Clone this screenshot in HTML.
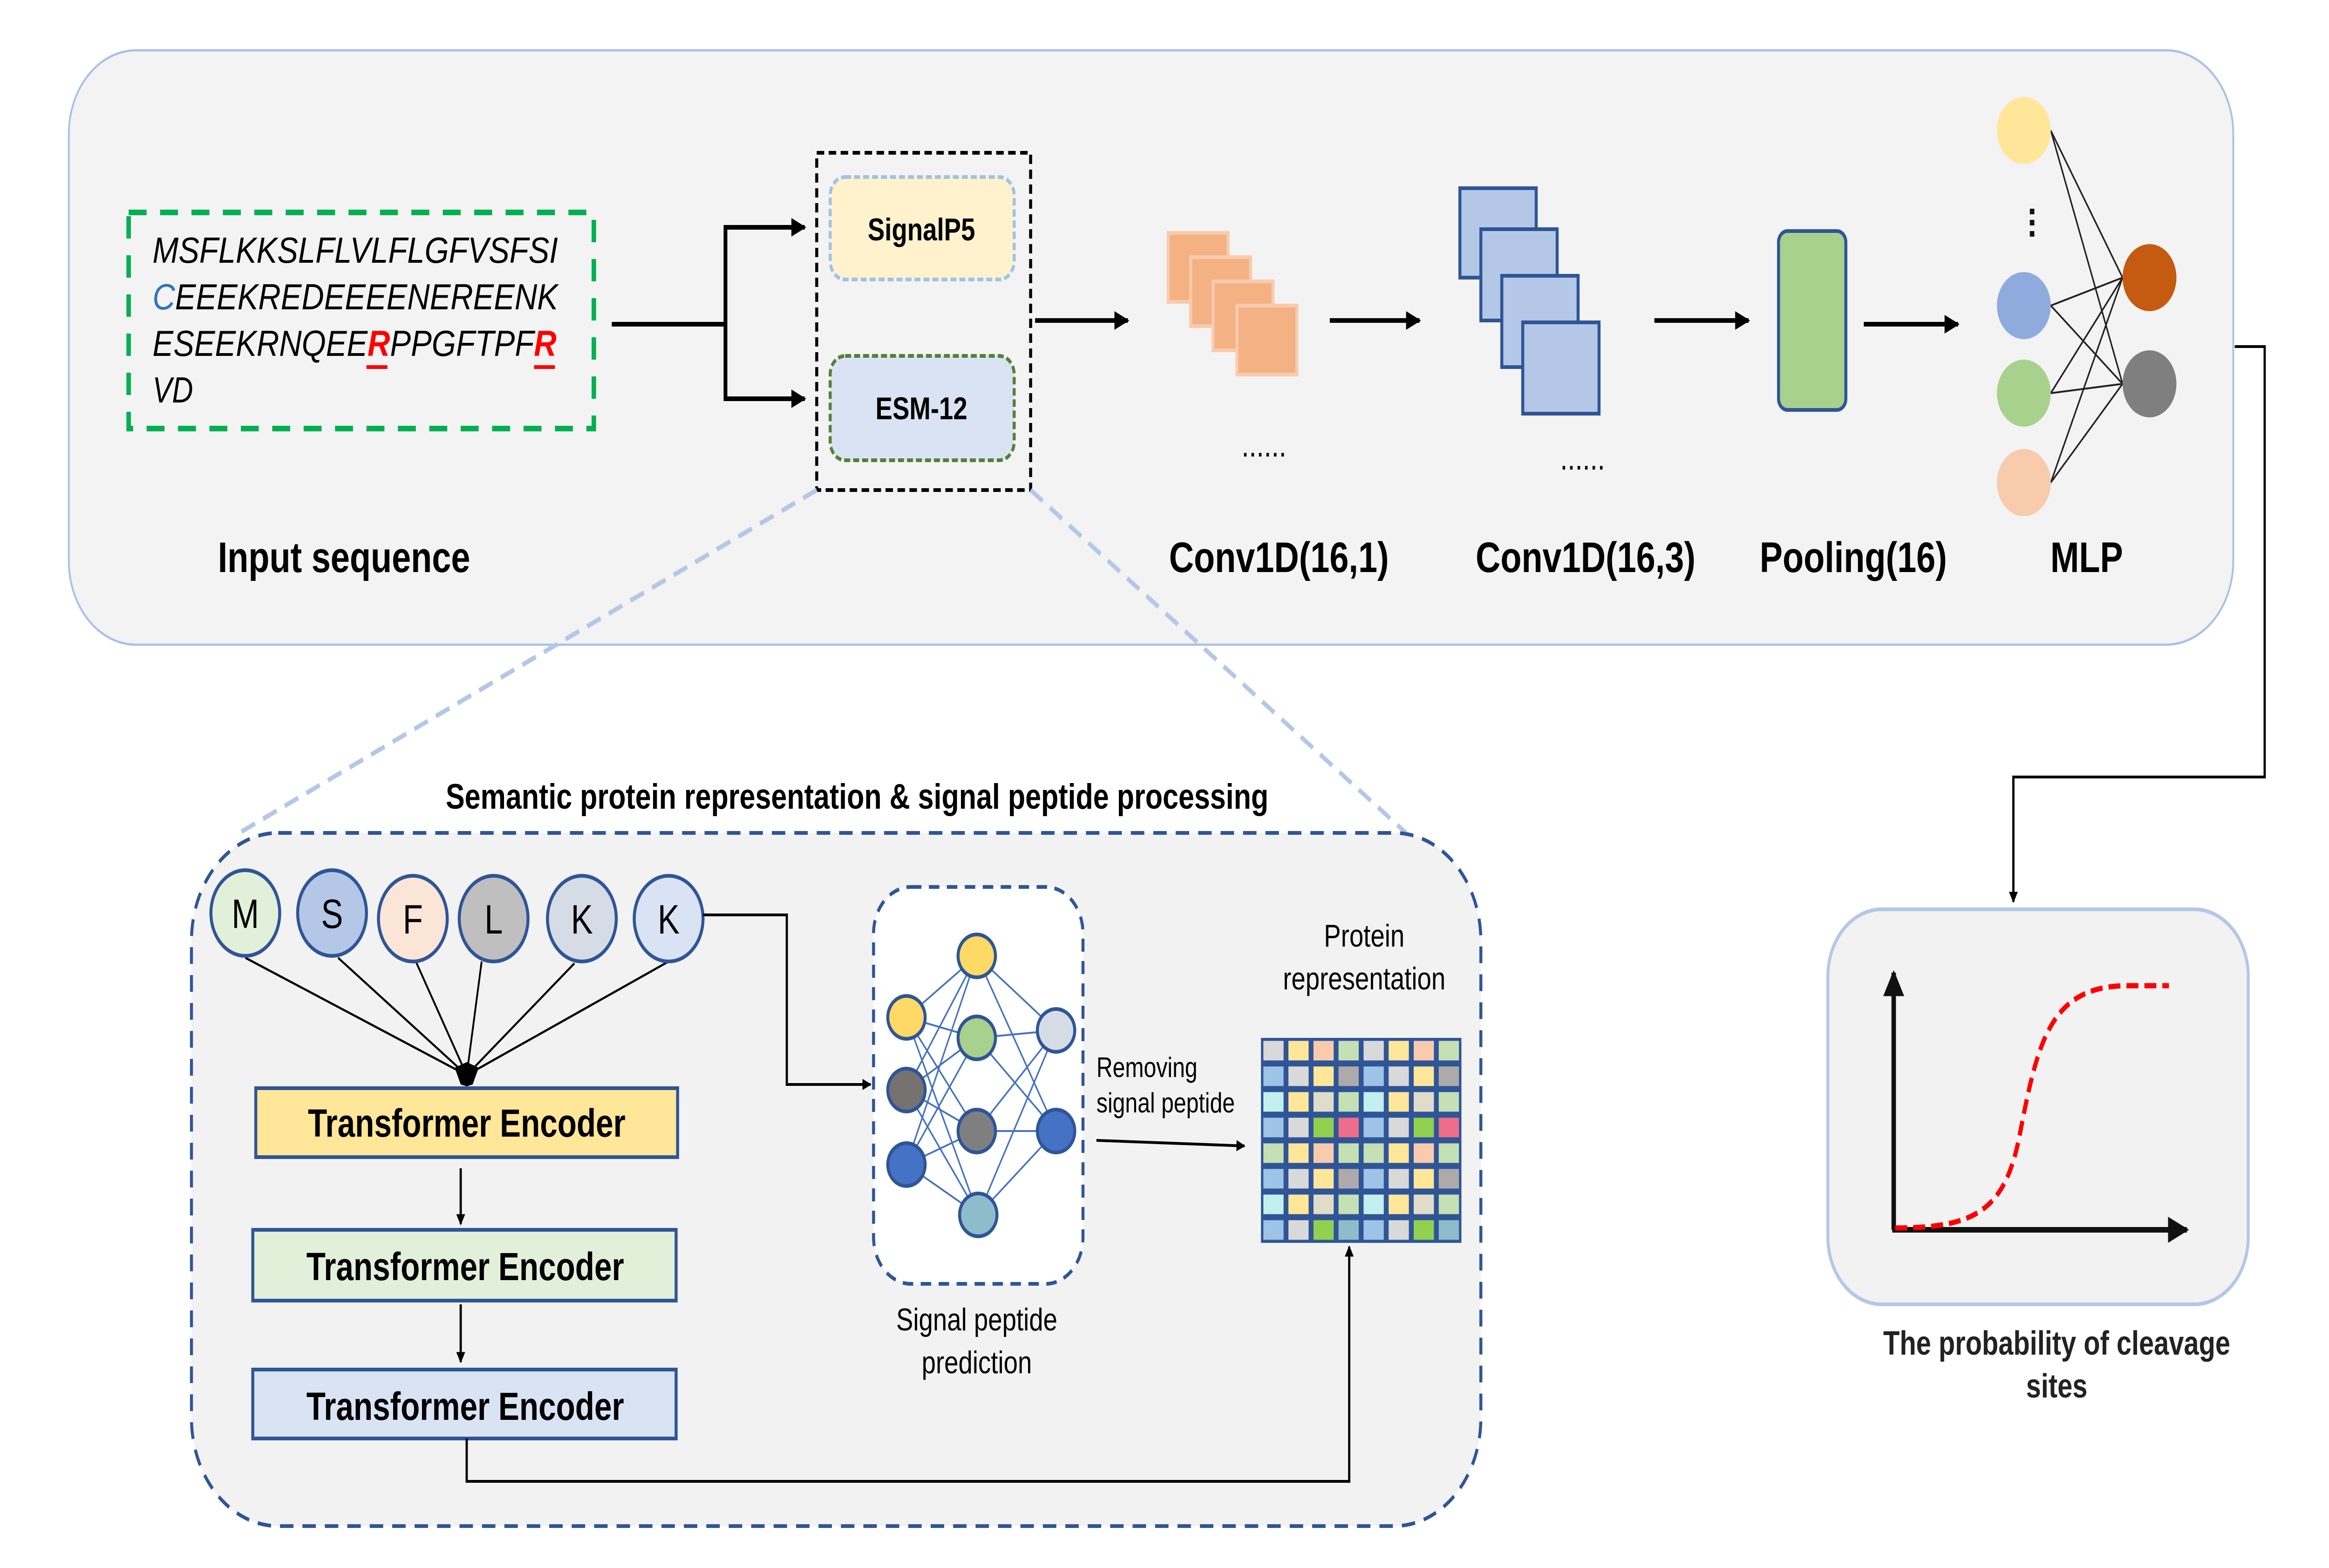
<!DOCTYPE html>
<html><head><meta charset="utf-8"><style>html,body{margin:0;padding:0;background:#fff;overflow:hidden;width:100%;height:100%}svg{display:block;width:100vw;height:100vh}text{font-family:"Liberation Sans",Arial,sans-serif}</style></head>
<body>
<svg viewBox="0 0 1557 841.5" preserveAspectRatio="none" xmlns="http://www.w3.org/2000/svg">
<defs>
<marker id="ah" viewBox="0 0 10 10" refX="9" refY="5" markerWidth="6" markerHeight="6" markerUnits="userSpaceOnUse" orient="auto"><path d="M0,0L10,5L0,10z" fill="#000"/></marker>
<marker id="ah2" viewBox="0 0 10 10" refX="9" refY="5" markerWidth="10" markerHeight="10" markerUnits="userSpaceOnUse" orient="auto"><path d="M0,0L10,5L0,10z" fill="#000"/></marker>
<marker id="ah3" viewBox="0 0 10 10" refX="9" refY="5" markerWidth="14" markerHeight="14" markerUnits="userSpaceOnUse" orient="auto"><path d="M0,0L10,5L0,10z" fill="#111"/></marker>
</defs>
<rect width="1557" height="841.5" fill="#fff"/>
<rect x="46" y="27" width="1447" height="319" rx="45" fill="#f3f3f3" stroke="#a9c0e6" stroke-width="1.2"/>
<rect x="86" y="114" width="311" height="116" fill="none" stroke="#00b050" stroke-width="3" stroke-dasharray="12,9"/>
<g font-style="italic" font-size="19.5" fill="#000">
<text x="102" y="141" textLength="271" lengthAdjust="spacingAndGlyphs">MSFLKKSLFLVLFLGFVSFSI</text>
<text x="102" y="166" textLength="271" lengthAdjust="spacingAndGlyphs"><tspan fill="#2e75b6">C</tspan>EEEKREDEEEENEREENK</text>
<text x="102" y="191" textLength="270" lengthAdjust="spacingAndGlyphs">ESEEKRNQEE<tspan fill="#ff0000" font-weight="bold">R</tspan>PPGFTPF<tspan fill="#ff0000" font-weight="bold">R</tspan></text>
<text x="102" y="216">VD</text>
</g>
<rect x="245" y="196" width="14" height="2" fill="#ff0000"/>
<rect x="357" y="196" width="14" height="2" fill="#ff0000"/>
<text x="230" y="307" font-size="23" font-weight="bold" text-anchor="middle">Input sequence</text>
<g stroke="#000" stroke-width="2.5" fill="none">
<path d="M409,174H485V122H538" marker-end="url(#ah2)"/>
<path d="M485,174V214H538" marker-end="url(#ah2)"/>
<path d="M692,172H754" marker-end="url(#ah2)"/>
<path d="M889,172H949" marker-end="url(#ah2)"/>
<path d="M1106,172H1169" marker-end="url(#ah2)"/>
<path d="M1246,174H1309" marker-end="url(#ah2)"/>
</g>
<rect x="546" y="82" width="143" height="181" fill="none" stroke="#000" stroke-width="2" stroke-dasharray="5,3"/>
<rect x="555" y="95" width="123" height="55" rx="10" fill="#fff2cc" stroke="#9dc3e6" stroke-width="2" stroke-dasharray="4,2"/>
<rect x="555" y="191" width="123" height="56" rx="10" fill="#dae3f3" stroke="#538135" stroke-width="2" stroke-dasharray="4,2"/>
<text x="616" y="129" font-size="17" font-weight="bold" text-anchor="middle">SignalP5</text>
<text x="616" y="225" font-size="17" font-weight="bold" text-anchor="middle">ESM-12</text>
<g fill="#f4b183" stroke="#f8cbad" stroke-width="2">
<rect x="781" y="125" width="40" height="37"/><rect x="796" y="138" width="40" height="37"/><rect x="811" y="151" width="40" height="37"/><rect x="827" y="164" width="40" height="37"/>
</g>
<text x="845" y="245" font-size="18" text-anchor="middle">......</text>
<g fill="#b4c7e7" stroke="#2f5597" stroke-width="2">
<rect x="976" y="101" width="51" height="48"/><rect x="990" y="123" width="51" height="49"/><rect x="1004" y="148" width="51" height="49"/><rect x="1018" y="173" width="51" height="49"/>
</g>
<text x="1058" y="252" font-size="18" text-anchor="middle">......</text>
<rect x="1189" y="124" width="45" height="96" rx="6" fill="#a9d18e" stroke="#2f5597" stroke-width="2"/>
<g stroke="#222" stroke-width="1">
<path d="M1371,70L1419,149M1371,70L1419,206M1371,164L1419,149M1371,164L1419,206M1371,211L1419,149M1371,211L1419,206M1371,259L1419,149M1371,259L1419,206"/>
</g>
<ellipse cx="1353" cy="70" rx="18" ry="18" fill="#ffe699"/>
<ellipse cx="1353" cy="164" rx="18" ry="18" fill="#8faadc"/>
<ellipse cx="1353" cy="211" rx="18" ry="18" fill="#a9d18e"/>
<ellipse cx="1353" cy="259" rx="18" ry="18" fill="#f8cbad"/>
<ellipse cx="1437" cy="149" rx="18" ry="18" fill="#c55a11"/>
<ellipse cx="1437" cy="206" rx="18" ry="18" fill="#7f7f7f"/>
<g fill="#111"><rect x="1357" y="112" width="3" height="3"/><rect x="1357" y="118" width="3" height="3"/><rect x="1357" y="124" width="3" height="3"/></g>
<g font-size="23" font-weight="bold" text-anchor="middle">
<text x="855" y="307">Conv1D(16,1)</text><text x="1060" y="307">Conv1D(16,3)</text><text x="1239" y="307">Pooling(16)</text><text x="1395" y="307">MLP</text>
</g>
<path d="M1494,186H1514V417H1346V484" fill="none" stroke="#000" stroke-width="1.5" marker-end="url(#ah)"/>
<rect x="1222" y="488" width="281" height="212" rx="36" fill="#f2f2f2" stroke="#b4c7e7" stroke-width="2"/>
<path d="M1266,660V522" stroke="#111" stroke-width="3" marker-end="url(#ah3)"/>
<path d="M1265,660H1462" stroke="#111" stroke-width="3" marker-end="url(#ah3)"/>
<path d="M1267,659C1320,659 1340,650 1350,610C1362,560 1370,530 1420,529L1450,529" fill="none" stroke="#ff0000" stroke-width="2.8" stroke-dasharray="8,4"/>
<text x="1375" y="727" font-size="18" font-weight="bold" text-anchor="middle" fill="#222">The probability of cleavage</text>
<text x="1375" y="750" font-size="18" font-weight="bold" text-anchor="middle" fill="#222">sites</text>
<path d="M546,263L160,447M689,263L940,447" stroke="#b4c7e7" stroke-width="2.5" stroke-dasharray="10,6" fill="none"/>
<rect x="128" y="447" width="862" height="372" rx="58" fill="#f2f2f2" stroke="#2f5597" stroke-width="2" stroke-dasharray="9,6"/>
<text x="573" y="434" font-size="19" font-weight="bold" text-anchor="middle">Semantic protein representation &amp; signal peptide processing</text>
<g stroke="#000" stroke-width="1.2">
<path d="M164,514L312,577M226,514L312,577M278,516L312,577M322,516L312,577M384,517L312,577M447,516L312,577"/>
</g>
<path d="M304,573L312,570L320,573L316,582L312,583L308,582Z" fill="#000"/>
<g stroke="#2f5597" stroke-width="2">
<circle cx="164" cy="490" r="23" fill="#e2f0d9"/><circle cx="222" cy="490" r="23" fill="#b4c7e7"/><circle cx="276" cy="493" r="23" fill="#fbe5d6"/><circle cx="330" cy="493" r="23" fill="#bfbfbf"/><circle cx="389" cy="493" r="23" fill="#d6dce5"/><circle cx="447" cy="493" r="23" fill="#dae3f3"/>
</g>
<g font-size="22" text-anchor="middle">
<text x="164" y="498">M</text><text x="222" y="498">S</text><text x="276" y="501">F</text><text x="330" y="501">L</text><text x="389" y="501">K</text><text x="447" y="501">K</text>
</g>
<g stroke="#2f5597" stroke-width="2">
<rect x="171" y="584" width="282" height="37" fill="#ffe699"/>
<rect x="169" y="660" width="283" height="38" fill="#e2f0d9"/>
<rect x="169" y="735" width="283" height="37" fill="#dae3f3"/>
</g>
<g font-size="21" font-weight="bold" text-anchor="middle">
<text x="312" y="610">Transformer Encoder</text><text x="311" y="687">Transformer Encoder</text><text x="311" y="762">Transformer Encoder</text>
</g>
<g stroke="#000" stroke-width="1.5" fill="none">
<path d="M308,627V657" marker-end="url(#ah)"/>
<path d="M308,700V731" marker-end="url(#ah)"/>
<path d="M312,772V795H902V669" marker-end="url(#ah)"/>
<path d="M470,491H526V582H582" marker-end="url(#ah)"/>
<path d="M733,612L832,615" marker-end="url(#ah)"/>
</g>
<rect x="584" y="476" width="140" height="213" rx="25" fill="#fff" stroke="#2f5597" stroke-width="2" stroke-dasharray="7,5"/>
<g stroke="#4472c4" stroke-width="1">
<path d="M606,546L653,513M606,546L653,557M606,546L653,607M606,546L654,652M606,585L653,513M606,585L653,557M606,585L653,607M606,585L654,652M606,625L653,513M606,625L653,557M606,625L653,607M606,625L654,652M653,513L706,553M653,513L706,607M653,557L706,553M653,557L706,607M653,607L706,553M653,607L706,607M654,652L706,553M654,652L706,607"/>
</g>
<g stroke="#2f5597" stroke-width="2">
<ellipse cx="606" cy="546" rx="12.5" ry="11.5" fill="#ffd966"/><ellipse cx="606" cy="585" rx="12.5" ry="11.5" fill="#767171"/><ellipse cx="606" cy="625" rx="12.5" ry="11.5" fill="#4472c4"/>
<ellipse cx="653" cy="513" rx="12.5" ry="11.5" fill="#ffd966"/><ellipse cx="653" cy="557" rx="12.5" ry="11.5" fill="#a9d18e"/><ellipse cx="653" cy="607" rx="12.5" ry="11.5" fill="#7f7f7f"/><ellipse cx="654" cy="652" rx="12.5" ry="11.5" fill="#8fbcca"/>
<ellipse cx="706" cy="553" rx="12.5" ry="11.5" fill="#d6dce5"/><ellipse cx="706" cy="607" rx="12.5" ry="11.5" fill="#4472c4"/>
</g>
<g font-size="17" text-anchor="middle">
<text x="653" y="714">Signal peptide</text><text x="653" y="737">prediction</text>
<text x="912" y="508">Protein</text><text x="912" y="531">representation</text>
</g>
<text x="733" y="578" font-size="15">Removing</text>
<text x="733" y="597" font-size="15">signal peptide</text>
<g transform="translate(843,557)">
<rect width="134" height="110" fill="#2f5597"/>
<rect x="1.6" y="1.6" width="13.5" height="10.5" fill="#d9d9d9"/><rect x="18.35" y="1.6" width="13.5" height="10.5" fill="#ffe699"/><rect x="35.1" y="1.6" width="13.5" height="10.5" fill="#f8cbad"/><rect x="51.85" y="1.6" width="13.5" height="10.5" fill="#c5e0b4"/><rect x="68.6" y="1.6" width="13.5" height="10.5" fill="#d9d9d9"/><rect x="85.35" y="1.6" width="13.5" height="10.5" fill="#ffe699"/><rect x="102.1" y="1.6" width="13.5" height="10.5" fill="#f8cbad"/><rect x="118.85" y="1.6" width="13.5" height="10.5" fill="#c5e0b4"/>
<rect x="1.6" y="15.35" width="13.5" height="10.5" fill="#9dc3e6"/><rect x="18.35" y="15.35" width="13.5" height="10.5" fill="#d9d9d9"/><rect x="35.1" y="15.35" width="13.5" height="10.5" fill="#ffe699"/><rect x="51.85" y="15.35" width="13.5" height="10.5" fill="#aeaaaa"/><rect x="68.6" y="15.35" width="13.5" height="10.5" fill="#9dc3e6"/><rect x="85.35" y="15.35" width="13.5" height="10.5" fill="#d9d9d9"/><rect x="102.1" y="15.35" width="13.5" height="10.5" fill="#ffe699"/><rect x="118.85" y="15.35" width="13.5" height="10.5" fill="#aeaaaa"/>
<rect x="1.6" y="29.1" width="13.5" height="10.5" fill="#c4efef"/><rect x="18.35" y="29.1" width="13.5" height="10.5" fill="#ffe699"/><rect x="35.1" y="29.1" width="13.5" height="10.5" fill="#dfdcc9"/><rect x="51.85" y="29.1" width="13.5" height="10.5" fill="#c5e0b4"/><rect x="68.6" y="29.1" width="13.5" height="10.5" fill="#c4efef"/><rect x="85.35" y="29.1" width="13.5" height="10.5" fill="#ffe699"/><rect x="102.1" y="29.1" width="13.5" height="10.5" fill="#dfdcc9"/><rect x="118.85" y="29.1" width="13.5" height="10.5" fill="#c5e0b4"/>
<rect x="1.6" y="42.85" width="13.5" height="10.5" fill="#9dc3e6"/><rect x="18.35" y="42.85" width="13.5" height="10.5" fill="#d9d9d9"/><rect x="35.1" y="42.85" width="13.5" height="10.5" fill="#92d050"/><rect x="51.85" y="42.85" width="13.5" height="10.5" fill="#ee6d8a"/><rect x="68.6" y="42.85" width="13.5" height="10.5" fill="#9dc3e6"/><rect x="85.35" y="42.85" width="13.5" height="10.5" fill="#d9d9d9"/><rect x="102.1" y="42.85" width="13.5" height="10.5" fill="#92d050"/><rect x="118.85" y="42.85" width="13.5" height="10.5" fill="#ee6d8a"/>
<rect x="1.6" y="56.6" width="13.5" height="10.5" fill="#c5e0b4"/><rect x="18.35" y="56.6" width="13.5" height="10.5" fill="#ffe699"/><rect x="35.1" y="56.6" width="13.5" height="10.5" fill="#f8cbad"/><rect x="51.85" y="56.6" width="13.5" height="10.5" fill="#c5e0b4"/><rect x="68.6" y="56.6" width="13.5" height="10.5" fill="#c5e0b4"/><rect x="85.35" y="56.6" width="13.5" height="10.5" fill="#ffe699"/><rect x="102.1" y="56.6" width="13.5" height="10.5" fill="#f8cbad"/><rect x="118.85" y="56.6" width="13.5" height="10.5" fill="#c5e0b4"/>
<rect x="1.6" y="70.35" width="13.5" height="10.5" fill="#9dc3e6"/><rect x="18.35" y="70.35" width="13.5" height="10.5" fill="#d9d9d9"/><rect x="35.1" y="70.35" width="13.5" height="10.5" fill="#ffe699"/><rect x="51.85" y="70.35" width="13.5" height="10.5" fill="#aeaaaa"/><rect x="68.6" y="70.35" width="13.5" height="10.5" fill="#9dc3e6"/><rect x="85.35" y="70.35" width="13.5" height="10.5" fill="#d9d9d9"/><rect x="102.1" y="70.35" width="13.5" height="10.5" fill="#ffe699"/><rect x="118.85" y="70.35" width="13.5" height="10.5" fill="#aeaaaa"/>
<rect x="1.6" y="84.1" width="13.5" height="10.5" fill="#c4efef"/><rect x="18.35" y="84.1" width="13.5" height="10.5" fill="#ffe699"/><rect x="35.1" y="84.1" width="13.5" height="10.5" fill="#dfdcc9"/><rect x="51.85" y="84.1" width="13.5" height="10.5" fill="#c5e0b4"/><rect x="68.6" y="84.1" width="13.5" height="10.5" fill="#c4efef"/><rect x="85.35" y="84.1" width="13.5" height="10.5" fill="#ffe699"/><rect x="102.1" y="84.1" width="13.5" height="10.5" fill="#dfdcc9"/><rect x="118.85" y="84.1" width="13.5" height="10.5" fill="#c5e0b4"/>
<rect x="1.6" y="97.85" width="13.5" height="10.5" fill="#9dc3e6"/><rect x="18.35" y="97.85" width="13.5" height="10.5" fill="#d9d9d9"/><rect x="35.1" y="97.85" width="13.5" height="10.5" fill="#92d050"/><rect x="51.85" y="97.85" width="13.5" height="10.5" fill="#8fbcca"/><rect x="68.6" y="97.85" width="13.5" height="10.5" fill="#9dc3e6"/><rect x="85.35" y="97.85" width="13.5" height="10.5" fill="#d9d9d9"/><rect x="102.1" y="97.85" width="13.5" height="10.5" fill="#92d050"/><rect x="118.85" y="97.85" width="13.5" height="10.5" fill="#8fbcca"/>
</g>
</svg>
</body></html>
